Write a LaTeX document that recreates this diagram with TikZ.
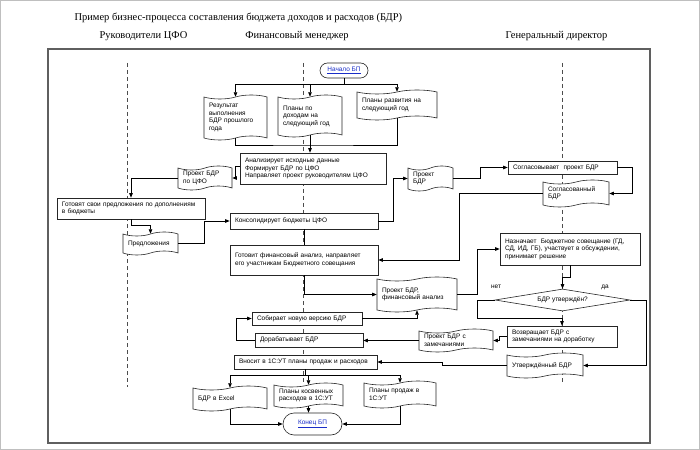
\documentclass[tikz,border=0pt]{standalone}
\usepackage{fontspec}
\setmainfont{Liberation Sans}
\newfontfamily\headfont{Liberation Serif}
\usetikzlibrary{shapes.symbols,shapes.geometric,arrows.meta}
\definecolor{linkblue}{RGB}{25,45,200}
\definecolor{framegray}{RGB}{95,95,95}
\newcommand{\boxfont}{\fontsize{6.5}{7.5}\selectfont}
\newcommand{\headsize}{\fontsize{10.5}{12}\selectfont}
\tikzset{
  proc/.style={draw=black!85, fill=white, rectangle, line width=0.6pt,
    inner xsep=5bp, inner ysep=1.5bp, font=\boxfont, align=left},
  doc/.style={draw=black!85, fill=white, tape, tape bend height=4bp,
    line width=0.6pt, inner xsep=5bp, inner ysep=1bp, font=\boxfont, align=left},
  term/.style={draw=black!85, fill=white, line width=0.6pt, font=\boxfont, text=linkblue},
  decision/.style={draw=black!85, fill=white, diamond, aspect=6, line width=0.6pt,
    inner sep=0pt, font=\boxfont},
  lane/.style={draw=black!70, dash pattern=on 4bp off 3bp, line width=0.6pt},
  conn/.style={draw=black, line width=0.7pt},
  arr/.style={conn, -{Triangle[length=4.5bp,width=3.5bp]}},
}

\begin{document}
\begin{tikzpicture}[x=1bp, y=-1bp]
  \useasboundingbox (0,0) rectangle (700,450);
  \draw[black!25, line width=1pt] (0.5,0.5) rectangle (699.5,449.5);

  \node[font=\headfont\headsize, anchor=west] (title) at (71,18)
    {Пример бизнес-процесса составления бюджета доходов и расходов (БДР)};
  \node[font=\headfont\headsize] (hcfo) at (143.5,36) {Руководители ЦФО};
  \node[font=\headfont\headsize] (hfin) at (297,36) {Финансовый менеджер};
  \node[font=\headfont\headsize] (hgen) at (556.5,36) {Генеральный директор};

  \draw[framegray, line width=1.2pt] (48,49) rectangle (650,443);
  \draw[lane] (127,63) -- (127,387);
  \draw[lane] (303,63) -- (303,385);
  \draw[lane] (562,63) -- (562,385);

  \node[term, minimum width=48bp, minimum height=15bp, rounded corners=7.5bp] (start)
    at (344,70.5) {\underline{Начало БП}};
  \node[doc, text width=53bp, minimum height=45bp] (res) at (235.5,117.5)
    {Результат\\выполнения\\БДР прошлого\\года};
  \node[doc, text width=54bp, minimum height=42bp] (plan) at (310,116)
    {Планы по\\доходам на\\следующий год};
  \node[doc, text width=70bp, minimum height=30bp] (razv) at (397,105)
    {Планы развития на\\следующий год};
  \node[proc, text width=136bp, minimum height=31bp] (anal) at (313,168.5)
    {Анализирует исходные данные\\Формирует БДР по ЦФО\\Направляет проект руководителям ЦФО};
  \node[doc, text width=44bp, minimum height=24bp] (pbcfo) at (205,178)
    {Проект БДР\\по ЦФО};
  \node[proc, text width=138bp, minimum height=21bp] (gotov) at (131,208.5)
    {Готовят свои предложения по дополнениям\\в бюджеты};
  \node[doc, text width=45bp, minimum height=23bp] (predl) at (150.5,243.5)
    {Предложения};
  \node[proc, text width=138bp, minimum height=16bp] (kons) at (304,221)
    {Консолидирует бюджеты ЦФО};
  \node[proc, text width=138bp, minimum height=30bp] (gotfin) at (304,260)
    {Готовит финансовый анализ, направляет\\его участникам Бюджетного совещания};
  \node[doc, text width=35bp, minimum height=25bp] (pbdr) at (430.5,178.5)
    {Проект\\БДР};
  \node[proc, text width=99bp, minimum height=13bp] (sogl) at (562.5,167.5)
    {Согласовывает~ проект БДР};
  \node[doc, text width=56bp, minimum height=27bp] (soglbdr) at (576,193.5)
    {Согласованный\\БДР};
  \node[proc, text width=130bp, minimum height=32bp] (naz) at (570,249)
    {Назначает~ Бюджетное совещание (ГД,\\СД, ИД, ГБ), участвует в обсуждении,\\принимает решение};
  \node[doc, text width=70bp, minimum height=35bp] (pfa) at (417,294.5)
    {Проект БДР,\\финансовый анализ};
  \node[decision, minimum width=135bp, minimum height=22bp] (dia) at (562.5,300)
    {БДР утверждён?};
  \node[font=\boxfont] (no) at (496,287) {нет};
  \node[font=\boxfont] (yes) at (605,287) {да};
  \node[proc, text width=100bp, minimum height=21bp] (vozv) at (562,336.5)
    {Возвращает БДР с\\замечаниями на доработку};
  \node[proc, text width=100bp, minimum height=13bp] (sob) at (307,318.5)
    {Собирает новую версию БДР};
  \node[proc, text width=98bp, minimum height=14bp] (dorab) at (309,340)
    {Дорабатывает БДР};
  \node[doc, text width=64bp, minimum height=23bp] (pzam) at (456,340.5)
    {Проект БДР с\\замечаниями};
  \node[doc, text width=66bp, minimum height=25bp] (utv) at (545,365.5)
    {Утверждённый БДР};
  \node[proc, text width=133bp, minimum height=14bp] (vnos) at (305.5,362)
    {Вносит в 1С:УТ планы продаж и расходов};
  \node[doc, text width=64bp, minimum height=25bp] (excel) at (230,398.5)
    {БДР в Excel};
  \node[doc, text width=59bp, minimum height=25bp] (kosv) at (308.5,395.5)
    {Планы косвенных\\расходов в 1С:УТ};
  \node[doc, text width=62bp, minimum height=27bp] (prod) at (400,394.5)
    {Планы продаж в\\1С:УТ};
  \node[term, minimum width=59bp, minimum height=22bp, rounded corners=11bp] (konec)
    at (312.5,424) {\underline{Конец БП}};

  \draw[conn] (start.south) -- ++(0,6) coordinate (s1);
  \draw[arr] (s1) -| (res.north);
  \draw[arr] (s1) -| (plan.north);
  \draw[arr] (s1) -| (razv.north);
  \coordinate (m1) at (310,145);
  \draw[conn] (res.south) |- (m1) -| (razv.south);
  \draw[arr] (plan.south) -- (plan.south |- anal.north);
  \draw[arr] ([yshift=2bp]anal.west) -- ++(-4,0) |- (pbcfo.east);
  \draw[arr] (pbcfo.west) -| (gotov.north);
  \draw[arr] (gotov.south) -- ++(0,6) -| (predl.north);
  \draw[arr] (predl.east) -- ++(26,0) |- (kons.west);
  \draw[conn] (kons.south) -- (gotfin.north);
  \draw[arr] (kons.east) -- ++(15,0) |- (pbdr.west);
  \draw[arr] (pbdr.east) -- ++(27,0) |- (sogl.west);
  \draw[arr] (sogl.east) -- ++(15,0) |- (soglbdr.east);
  \draw[arr] (soglbdr.west) -- ++(-83,0) |- (gotfin.east);
  \draw[arr] (gotfin.south) |- (pfa.west);
  \draw[arr] (pfa.east) -- ++(20,0) |- (naz.west);
  \draw[arr] (naz.south) -- ++(0,12) -| (dia.north);
  \draw[arr] (dia.west) -- ++(-17,0) -- ++(0,18) -| (vozv.north);
  \draw[arr] (dia.east) -- ++(16,0) |- (utv.east);
  \draw[arr] (vozv.west) -- ++(-7,0) |- (pzam.east);
  \draw[arr] (pzam.west) -- (pzam.west -| dorab.east);
  \draw[arr] (dorab.west) -- ++(-18,0) |- (sob.west);
  \draw[arr] (sob.east) -| (pfa.south);
  \draw[arr] (utv.west) -- ++(-64,0) |- (vnos.east);
  \draw[conn] (vnos.south) -- ++(0,6) coordinate (s2);
  \draw[arr] (s2) -| (excel.north);
  \draw[arr] (s2) -| (kosv.north);
  \draw[arr] (s2) -| (prod.north);
  \draw[arr] (excel.south) |- (konec.west);
  \draw[arr] (prod.south) |- (konec.east);
  \draw[arr] (kosv.south) -- (kosv.south |- konec.north);
\end{tikzpicture}
\end{document}
